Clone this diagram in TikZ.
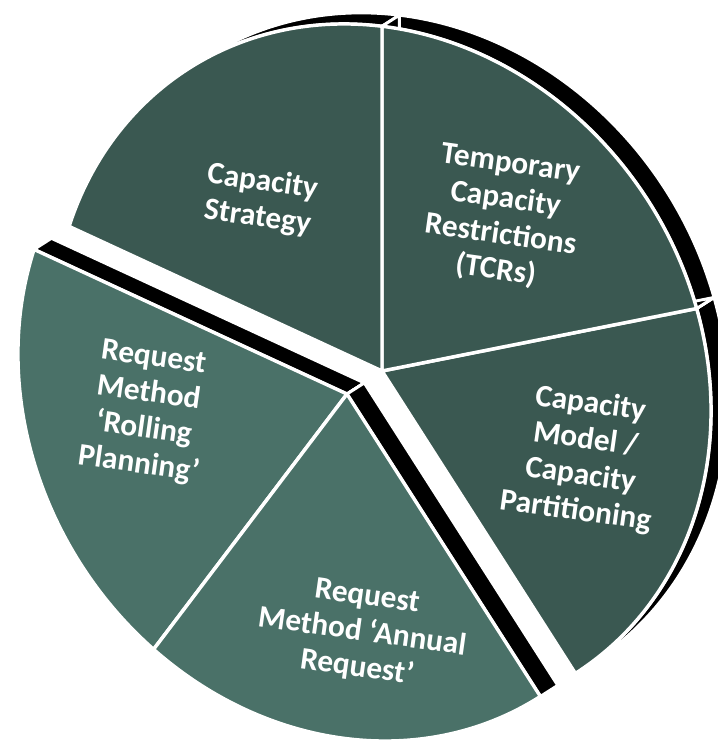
\documentclass[tikz,border=0pt]{standalone}
\usepackage{fontspec}
\setmainfont{Carlito}
\definecolor{piedark}{HTML}{3A5851}
\definecolor{pielight}{HTML}{4A7168}
\tikzstyle{side}=[fill=black,draw=white,line width=2.2pt,line join=round]
\tikzstyle{face}=[draw=white,line width=2.6pt,line join=round]
\tikzstyle{rim}=[x radius=269.25pt,y radius=237pt]
\tikzstyle{slicetext}=[text=white,font=\bfseries\fontsize{23.5}{27}\selectfont,align=center,rotate=-8]
\tikzset{disc/.style={shift={(#1)},rotate=-57.4,x=269.25pt,y=237pt}}
\def\sidewall#1#2#3{%
  \begin{scope}[disc=#1]
    \filldraw[side] (0,.065) -- ++(#2:1) arc[rim,start angle=#2,end angle=#3] -- cycle;
    \filldraw[side] (#2:1) arc[rim,start angle=#2,end angle=#3] -- ++(0,.065) arc[rim,start angle=#3,end angle=#2] -- cycle;
    \filldraw[side] (0,0) -- (#2:1) -- ++(0,.065) -- (0,.065) -- cycle;
    \filldraw[side] (0,0) -- (#3:1) -- ++(0,.065) -- (0,.065) -- cycle;
  \end{scope}}
\def\face#1#2#3#4{%
  \begin{scope}[disc=#1]
    \filldraw[face,fill=#4] (0,0) -- (#2:1) arc[rim,start angle=#2,end angle=#3] -- cycle;
  \end{scope}}
\begin{document}
\begin{tikzpicture}[x=0.75pt,y=0.75pt]
  \useasboundingbox (0,0) rectangle (718,744);
  \clip (0,0) rectangle (718,744);
  \coordinate (dark) at (382,373);
  \coordinate (light) at (347,350);
  % side walls first
  \sidewall{dark}{0}{71}
  \sidewall{dark}{71}{144}
  \sidewall{dark}{144}{216}
  \sidewall{light}{216}{288}
  \sidewall{light}{288}{360}
  % top faces
  \face{dark}{0}{71}{piedark}
  \face{dark}{71}{144}{piedark}
  \face{dark}{144}{216}{piedark}
  \face{light}{216}{288}{pielight}
  \face{light}{288}{360}{pielight}
  \node[slicetext] (strategy) at (260,544) {Capacity\\Strategy};
  \node[slicetext] (tcrs) at (503,526) {Temporary\\Capacity\\Restrictions\\(TCRs)};
  \node[slicetext] (model) at (583,286) {Capacity\\Model /\\Capacity\\Partitioning};
  \node[slicetext] (rolling) at (146,332) {Request\\Method\\‘Rolling\\Planning’};
  \node[slicetext] (annual) at (362,111) {Request\\Method ‘Annual\\Request’};
\end{tikzpicture}
\end{document}
